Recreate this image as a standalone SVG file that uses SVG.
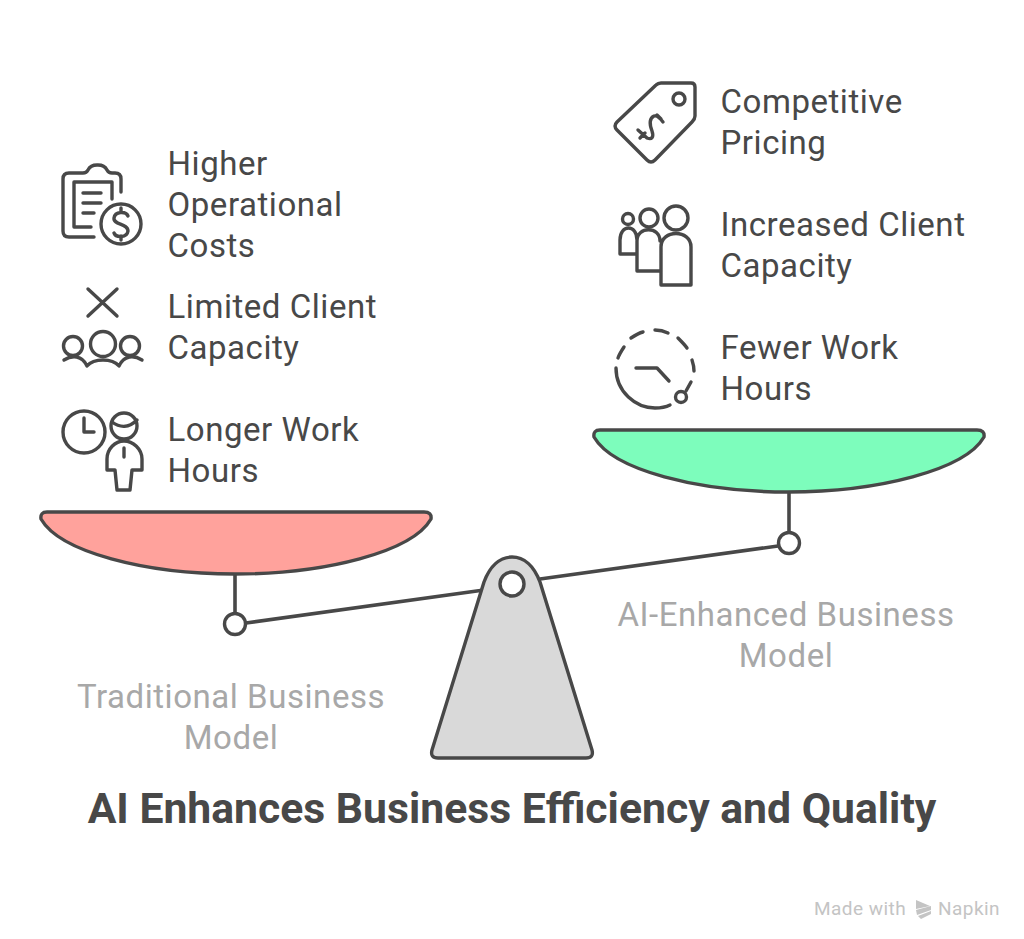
<svg xmlns="http://www.w3.org/2000/svg" width="1024" height="939" viewBox="0 0 1024 939">
<style>
text{font-family:Roboto,"Liberation Sans",sans-serif}
.l{font-size:33px;fill:#484848;letter-spacing:.55px}
.g{font-size:33px;fill:#a8a8a8;text-anchor:middle;letter-spacing:.55px}
.i{fill:none;stroke:#484848;stroke-width:3.4;stroke-linecap:round;stroke-linejoin:round}
.s{stroke:#484848;stroke-width:3.4;stroke-linejoin:round}
</style>
<rect width="1024" height="939" fill="#fff"/>
<g id="connectors" fill="none" stroke="#484848" stroke-width="3.6">
<path d="M235 573V613"/><path d="M789 491V532"/>
<path d="M246 623L484 590"/><path d="M540 579L778 546"/>
</g>
<g id="pan-left"><path class="s" d="M47 512H424Q432 512 431 519C412 552 325 574 235 574C145 574 60 552 41 519Q40 512 47 512Z" fill="#ffa29c"/><circle class="s" cx="235" cy="624" r="10.5" fill="#fff"/></g>
<g id="pan-right"><path class="s" d="M600 430H977Q985 430 984 437C965 470 878 492 788 492C698 492 613 470 594 437Q593 430 600 430Z" fill="#7dfdbc"/><circle class="s" cx="789" cy="543" r="10.5" fill="#fff"/></g>
<g id="fulcrum"><path class="s" d="M484 582C490 566 500 557 512 557C524 557 534 566 540 582L592 750Q594 758 586 758H438Q430 758 432 750Z" fill="#d9d9d9"/><circle class="s" cx="512" cy="584" r="12" fill="#fff"/></g>
<g id="node-costs">
<path class="i" d="M94 237H69Q63 237 63 231V179Q63 173 69 173H83C85 173 87 172 88 170C90 166 93 165 97 165H98C102 165 105 166 107 170C108 172 110 173 112 173H115Q121 173 121 179V192"/>
<path class="i" d="M91 227H74V182H112V199M83 193H101M83 203H101M83 213H94"/>
<circle class="i" cx="121" cy="224" r="20"/>
<path class="i" d="M128 216C126 211 115 211 114 218C113 225 128 223 128 231C127 238 116 238 114 233M121 208V212M121 236V240"/>
<text class="l" x="167.5" y="175">Higher</text><text class="l" x="167.5" y="216">Operational</text><text class="l" x="167.5" y="257">Costs</text>
</g>
<g id="node-capacity">
<path class="i" d="M88 289L117 316M117 289L88 316"/>
<circle class="i" cx="103" cy="344" r="12.5"/><circle class="i" cx="73" cy="346" r="9.5"/><circle class="i" cx="130" cy="346" r="9.5"/>
<path class="i" d="M64 360C72 355 82 355 87 366C94 358 112 358 119 366C124 355 134 355 142 360"/>
<text class="l" x="167.5" y="318">Limited Client</text><text class="l" x="167.5" y="359">Capacity</text>
</g>
<g id="node-hours">
<circle class="i" cx="84" cy="432" r="21"/><path class="i" d="M84 418V432H94"/>
<circle class="i" cx="124" cy="426" r="13"/><path class="i" d="M112 422C120 428 129 428 137 420"/>
<path class="i" d="M124 448V457M107 470V459C107 449 115 441 124 441C133 441 142 449 142 459V470H132L130 490H117L115 470Z"/>
<text class="l" x="167.5" y="441">Longer Work</text><text class="l" x="167.5" y="482">Hours</text>
</g>
<g id="node-pricing">
<path class="i" d="M661 83H691Q695 83 695 87V116Q695 119 692 122L655 160Q651 164 647 160L617 130Q613 126 617 122L656 85Q658 83 661 83Z"/>
<circle class="i" cx="679" cy="99" r="6"/>
<path class="i" d="M638 130L647 138C652 140 654 137 652 131C649 123 650 118 654 116C657 115 660 118 663 122M640 138L645 133M657 115L661 119"/>
<text class="l" x="720.5" y="113">Competitive</text><text class="l" x="720.5" y="154">Pricing</text>
</g>
<g id="node-increased">
<circle class="i" cx="628" cy="219" r="5.5"/><circle class="i" cx="649" cy="218" r="9"/><circle class="i" cx="676" cy="218" r="12"/>
<path class="i" d="M637 254H620V240C620 224 637 224 637 240M637 271V241C637 226 660 226 660 241M637 271H660M661 285V247C661 229 691 229 691 247V285Z"/>
<text class="l" x="720.5" y="236">Increased Client</text><text class="l" x="720.5" y="277">Capacity</text>
</g>
<g id="node-fewer">
<path class="i" d="M655 330C659 330 664 331 668 333M631 338C634 336 639 333 643 332M618 358C619 355 622 350 624 347M678 338C681 341 685 345 687 348M692 360C694 366 694 370 694 371"/>
<path class="i" d="M616 368C616 392 636 408 655 408C660 408 666 407 670 405"/>
<path class="i" d="M636 368H657L669 381M691 382L686 391"/>
<circle class="i" cx="681" cy="397" r="5.5"/>
<text class="l" x="720.5" y="359">Fewer Work</text><text class="l" x="720.5" y="400">Hours</text>
</g>
<g id="label-traditional"><text class="g" x="231" y="708">Traditional Business</text><text class="g" x="231" y="749">Model</text></g>
<g id="label-ai"><text class="g" x="786" y="626">AI-Enhanced Business</text><text class="g" x="786" y="667">Model</text></g>
<text x="512" y="823" text-anchor="middle" font-size="42.7" font-weight="700" fill="#484848">AI Enhances Business Efficiency and Quality</text>
<g id="watermark">
<text x="814" y="915" font-size="19" fill="#c4c4c4" letter-spacing=".45">Made with</text>
<path d="M916 900L930 906L916 909ZM916 910L931 906V910L917 915ZM918 916L931 911V914L921 919Z" fill="#c4c4c4"/>
<text x="938" y="915" font-size="19" fill="#c4c4c4" letter-spacing=".45">Napkin</text>
</g>
</svg>
